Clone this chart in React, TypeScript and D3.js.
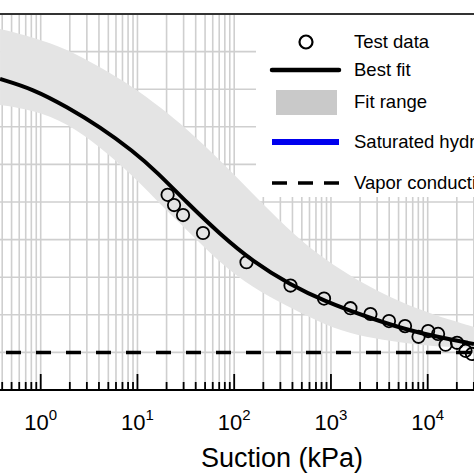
import React from 'react';
import * as d3 from 'd3';

// suction (kPa) and hydraulic conductivity (m/s)
const suctionTest = [20.5, 23.9, 29.6, 47.6, 134, 382, 848, 1590, 2560, 3980, 5830, 8040, 10100, 12800, 15300, 20100, 24600, 28700];
const kTest = [1.55e-10, 8.3e-11, 4.5e-11, 1.5e-11, 2.5e-12, 6.0e-13, 2.7e-13, 1.5e-13, 1.05e-13, 6.8e-14, 5.0e-14, 2.6e-14, 3.7e-14, 3.1e-14, 1.6e-14, 1.8e-14, 1.1e-14, 9.1e-15];

const suctionFit = [0.38, 0.83, 1.87, 4.1, 9.0, 15.9, 32.5, 71.3, 156, 377, 848, 2530, 5690, 12500, 30100];
const kFit = [1.87e-7, 1.01e-7, 3.37e-8, 9.89e-9, 2.27e-9, 6.3e-10, 9.6e-11, 1.4e-11, 2.6e-12, 6.4e-13, 2.33e-13, 8.22e-14, 4.19e-14, 2.57e-14, 1.67e-14];

const suctionBand = [0.38, 0.83, 1.87, 4.1, 9.0, 17.1, 32.5, 71.3, 156, 351, 717, 1570, 3450, 7750, 17000, 30100];
const kBandUpper = [3.99e-6, 2.44e-6, 1.17e-6, 3.89e-7, 1.15e-7, 3.37e-8, 8.73e-9, 1.31e-9, 1.63e-10, 2.04e-11, 4.14e-12, 1.08e-12, 3.57e-13, 1.43e-13, 7.28e-14, 4.74e-14];
const kBandLower = [3.8e-8, 2.8e-8, 1.26e-8, 2.9e-9, 4.91e-10, 8.85e-11, 1.8e-11, 2.39e-12, 5.16e-13, 1.71e-13, 6.84e-14, 3.08e-14, 2.14e-14, 1.57e-14, 1.39e-14, 1.3e-14];

const kSat = 2e-5;
const kVapor = 1e-14;

const xTickExps = [0, 1, 2, 3, 4];
const legendLabels = ['Test data', 'Best fit', 'Fit range', 'Saturated hydraulic conductivity', 'Vapor conductivity'];

const W = 474;
const H = 474;
const font = '"Liberation Sans", Arial, sans-serif';

export default function App() {
  // plot box runs past the left/right edges of the picture
  const top = 14;
  const bottom = 390;
  const dec = 96.75;
  const x0 = 40.7; // position of 10^0

  const x = d3.scaleLog().domain([0.1, 1e5]).range([x0 - dec, x0 + 5 * dec]);
  const y = d3.scaleLog().domain([1e-15, 1e-5]).range([bottom, top]);

  const xGrid = x.ticks();
  const yGrid = d3.range(-15, -4).map(e => Math.pow(10, e));

  const line = d3.line<[number, number]>()
    .x(d => x(d[0]))
    .y(d => y(d[1]))
    .curve(d3.curveBasis);

  const band = d3.area<number>()
    .x((_, i) => x(suctionBand[i]))
    .y0((_, i) => y(kBandLower[i]))
    .y1((_, i) => y(kBandUpper[i]))
    .curve(d3.curveBasis);

  const fitPts = suctionFit.map((s, i) => [s, kFit[i]] as [number, number]);
  const [xl, xr] = x.domain();

  const isMajor = (v: number) => Math.abs(Math.log10(v) - Math.round(Math.log10(v))) < 1e-9;

  const legendY = [42, 70, 102, 142, 183];
  const lx0 = 272;
  const lx1 = 339;

  return (
    <svg width={W} height={H} style={{ position: 'absolute', left: 0, top: 0, background: '#fff' }} fontFamily={font}>
      <defs>
        <clipPath id="plot">
          <rect x={0} y={top} width={W} height={bottom - top} />
        </clipPath>
      </defs>
      <rect width={W} height={H} fill="#fff" />
      <g clipPath="url(#plot)">
        {xGrid.map((v, i) => (
          <line key={'gx' + i} x1={x(v)} x2={x(v)} y1={top} y2={bottom} stroke="#cfcfcf" strokeWidth={1.6} />
        ))}
        {yGrid.map((v, i) => (
          <line key={'gy' + i} x1={0} x2={W} y1={y(v)} y2={y(v)} stroke="#cfcfcf" strokeWidth={1.6} />
        ))}
        <path d={band(suctionBand) || ''} fill="#e4e4e4" />
        <line x1={x(xl)} x2={x(xr)} y1={y(kSat)} y2={y(kSat)} stroke="#0000ee" strokeWidth={5} />
        <line x1={x(xl) + 3} x2={x(xr)} y1={y(kVapor)} y2={y(kVapor)} stroke="#000" strokeWidth={3.5}
          strokeDasharray="15,15" strokeDashoffset={-(3 - (x(xl) % 30 + 30) % 30 + 30) % 30} />
        <path d={line(fitPts) || ''} fill="none" stroke="#000" strokeWidth={4} />
        {suctionTest.map((s, i) => (
          <circle key={'p' + i} cx={x(s)} cy={y(kTest[i])} r={6.2} fill="none" stroke="#000" strokeWidth={1.8} />
        ))}
      </g>

      {/* legend */}
      <rect x={256} y={top + 1} width={W - 256} height={182} fill="#fff" />
      <circle cx={306} cy={legendY[0]} r={6.5} fill="none" stroke="#000" strokeWidth={2.2} />
      <line x1={lx0} x2={lx1} y1={legendY[1]} y2={legendY[1]} stroke="#000" strokeWidth={4.5} strokeLinecap="round" />
      <rect x={276} y={legendY[2] - 12} width={61} height={25} fill="#c9c9c9" />
      <line x1={lx0} x2={lx1} y1={legendY[3]} y2={legendY[3]} stroke="#0000ee" strokeWidth={6} />
      <line x1={lx0} x2={lx1 + 1} y1={legendY[4]} y2={legendY[4]} stroke="#000" strokeWidth={3.5} strokeDasharray="15,11" />
      {legendLabels.map((t, i) => (
        <text key={'lt' + i} x={354} y={legendY[i] + 6} fontSize={18.5} fill="#000">{t}</text>
      ))}

      {/* frame */}
      <line x1={0} x2={W} y1={top} y2={top} stroke="#333" strokeWidth={2} />
      <line x1={0} x2={W} y1={bottom} y2={bottom} stroke="#000" strokeWidth={2} />
      {xGrid.map((v, i) => (
        <line key={'t' + i} x1={x(v)} x2={x(v)} y1={bottom} y2={bottom - (isMajor(v) ? 16 : 8)} stroke="#000" strokeWidth={1.8} />
      ))}
      {xTickExps.map(e => (
        <text key={'xl' + e} x={x(Math.pow(10, e))} y={430} fontSize={22} textAnchor="middle" fill="#000">
          10<tspan dy={-10} fontSize={15}>{e}</tspan>
        </text>
      ))}
      <text x={282} y={467} fontSize={27} textAnchor="middle" fill="#000">Suction (kPa)</text>
    </svg>
  );
}
